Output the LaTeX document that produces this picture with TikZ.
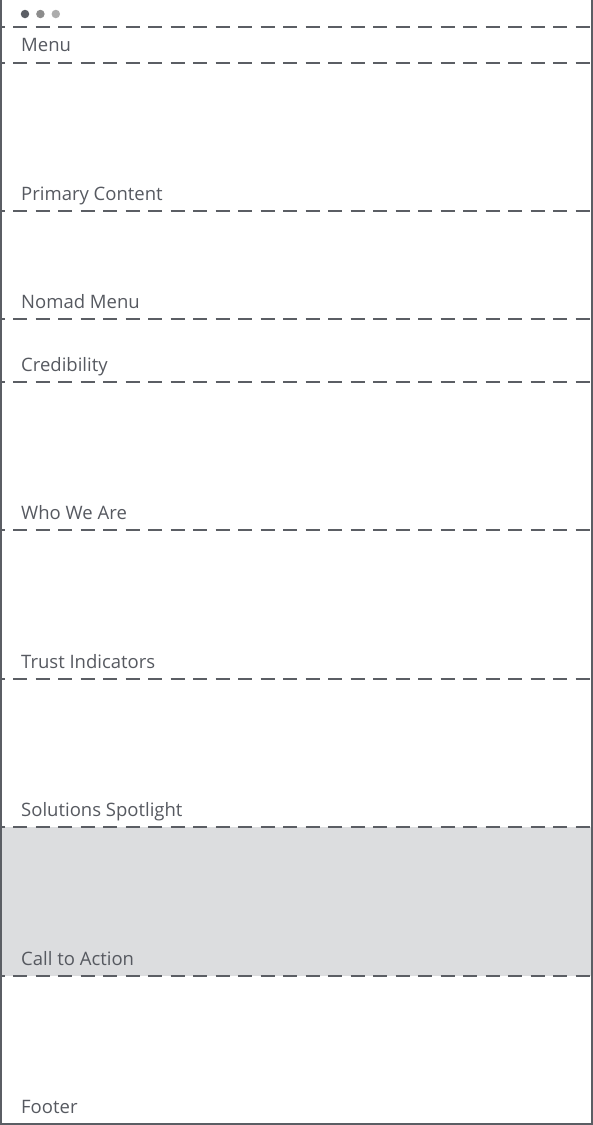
\documentclass[tikz,border=0pt]{standalone}
\usepackage{fontspec}
\setmainfont{Open Sans}
\usepackage{tikz}
\usetikzlibrary{positioning}
\definecolor{framegray}{HTML}{5B5E64}
\definecolor{textgray}{HTML}{565960}
\definecolor{ctafill}{HTML}{DCDDDF}
\tikzstyle{section} = [anchor=base west, inner sep=0pt, text=textgray, font=\fontsize{18.5}{22}\selectfont]
\tikzstyle{divider} = [draw=framegray, line width=1.8pt, dash pattern=on 14pt off 8.5pt, dash phase=9.5pt]
\tikzstyle{dot} = [circle, inner sep=0pt, minimum size=8.5pt]

\begin{document}
\begin{tikzpicture}[x=1pt, y=-1pt]
    \useasboundingbox (0,0) rectangle (593,1125);

    % Call to action band
    \fill[ctafill] (1,827) rectangle (592,976);

    % Window dots
    \node[dot, fill=framegray] (d1) at (25,14) {};
    \node[dot, fill=gray!90, right=6.5pt of d1] (d2) {};
    \node[dot, fill=gray!65, right=6.5pt of d2] (d3) {};

    % Dividers
    \foreach \y in {27,63,211,319,382,530,679,827,976}
        \draw[divider] (0,\y) -- (593,\y);

    % Section labels
    \node[section] (menu) at (21,51) {Menu};
    \node[section] (primary) at (21,200) {Primary Content};
    \node[section] (nomad) at (21,308) {Nomad Menu};
    \node[section] (cred) at (21,371) {Credibility};
    \node[section] (who) at (21,519) {Who We Are};
    \node[section] (trust) at (21,668) {Trust Indicators};
    \node[section] (solutions) at (21,816) {Solutions Spotlight};
    \node[section] (cta) at (21,965) {Call to Action};
    \node[section] (footer) at (21,1113) {Footer};

    % Frame
    \draw[framegray, line width=1.8pt] (1,0) -- (1,1124) -- (592,1124) -- (592,0);
\end{tikzpicture}
\end{document}
